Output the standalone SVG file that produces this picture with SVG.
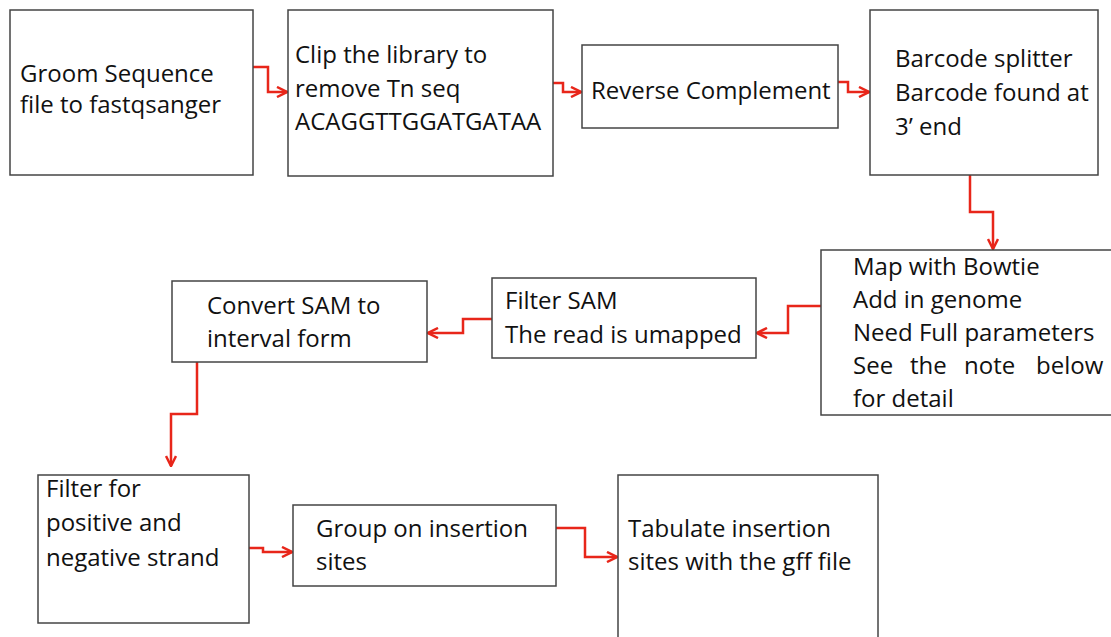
<svg xmlns="http://www.w3.org/2000/svg" width="1111" height="637" viewBox="0 0 1111 637">
<defs>
<style>
.box{fill:#fff;stroke:#444;stroke-width:1.5}
.t{font-family:"Open Sans","Liberation Sans",sans-serif;font-size:24px;fill:#111}
.c{fill:none;stroke:#e8261a;stroke-width:2.5;stroke-linejoin:miter}
</style>
<marker id="ah" viewBox="0 0 12 12" refX="11" refY="6" markerWidth="12" markerHeight="12" markerUnits="userSpaceOnUse" orient="auto">
<path d="M1,1 L11,6 L1,11" fill="none" stroke="#e8261a" stroke-width="2.5"/>
</marker>
</defs>
<rect width="1111" height="637" fill="#fff"/>
<g id="connectors">
<path class="c" marker-end="url(#ah)" d="M253,67 H268 V92 H287"/>
<path class="c" marker-end="url(#ah)" d="M553,83 H563 V92 H581"/>
<path class="c" marker-end="url(#ah)" d="M838,82 H848 V92 H869"/>
<path class="c" marker-end="url(#ah)" d="M970,175 V212 H993 V249"/>
<path class="c" marker-end="url(#ah)" d="M821,306 H788 V333 H757"/>
<path class="c" marker-end="url(#ah)" d="M492,319 H463 V333 H428"/>
<path class="c" marker-end="url(#ah)" d="M197,362 V414 H171 V466"/>
<path class="c" marker-end="url(#ah)" d="M249,548 H263 V552 H292"/>
<path class="c" marker-end="url(#ah)" d="M556,528 H585 V557 H617"/>
</g>
<g id="n1"><rect class="box" x="10" y="10" width="243" height="165"/>
<text class="t" x="20" y="82">Groom Sequence</text><text class="t" x="20" y="113">file to fastqsanger</text></g>
<g id="n2"><rect class="box" x="288" y="10" width="265" height="166"/>
<text class="t" x="295" y="63">Clip the library to</text><text class="t" x="295" y="97">remove Tn seq</text><text class="t" x="295" y="130">ACAGGTTGGATGATAA</text></g>
<g id="n3"><rect class="box" x="582" y="45" width="256" height="83"/>
<text class="t" x="591" y="99">Reverse Complement</text></g>
<g id="n4"><rect class="box" x="870" y="10" width="228" height="165"/>
<text class="t" x="895" y="67">Barcode splitter</text><text class="t" x="895" y="101">Barcode found at</text><text class="t" x="895" y="135">3’ end</text></g>
<g id="n5"><rect class="box" x="821" y="250" width="300" height="165"/>
<text class="t" x="853" y="275">Map with Bowtie</text><text class="t" x="853" y="308">Add in genome</text><text class="t" x="853" y="341">Need Full parameters</text>
<text class="t" y="374"><tspan x="853">See</tspan><tspan x="910">the</tspan><tspan x="964">note</tspan><tspan x="1036">below</tspan></text>
<text class="t" x="853" y="407">for detail</text></g>
<g id="n6"><rect class="box" x="492" y="278" width="264" height="80"/>
<text class="t" x="505" y="309">Filter SAM</text><text class="t" x="505" y="343">The read is umapped</text></g>
<g id="n7"><rect class="box" x="172" y="281" width="255" height="81"/>
<text class="t" x="207" y="314">Convert SAM to</text><text class="t" x="207" y="347">interval form</text></g>
<g id="n8"><rect class="box" x="38" y="475" width="211" height="148"/>
<text class="t" x="46" y="497">Filter for</text><text class="t" x="46" y="531">positive and</text><text class="t" x="46" y="566">negative strand</text></g>
<g id="n9"><rect class="box" x="293" y="505" width="263" height="81"/>
<text class="t" x="316" y="537">Group on insertion</text><text class="t" x="316" y="570">sites</text></g>
<g id="n10"><rect class="box" x="618" y="475" width="260" height="170"/>
<text class="t" x="628" y="537">Tabulate insertion</text><text class="t" x="628" y="570">sites with the gff file</text></g>
</svg>
